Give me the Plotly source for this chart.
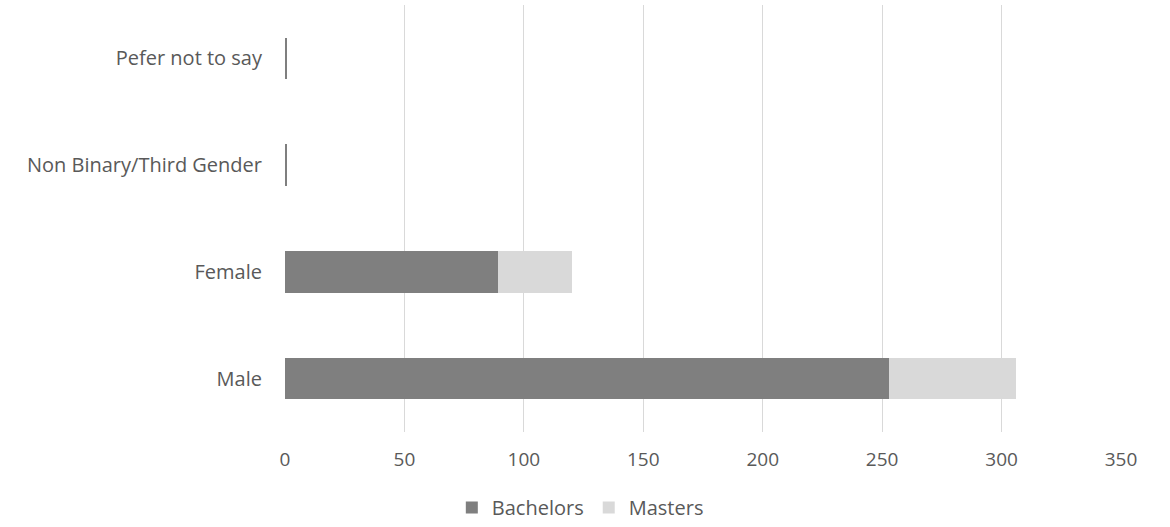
import plotly.graph_objects as go

# Respondents by gender, split by degree level
genders = ["Male", "Female", "Non Binary/Third Gender", "Pefer not to say"]
bachelors = [253, 89, 1, 1]
masters = [53, 31, 0, 0]
x_ticks = [0, 50, 100, 150, 200, 250, 300, 350]

font_family = "'Open Sans', Lato, sans-serif"
text_color = "#595959"

fig = go.Figure()
fig.add_trace(go.Bar(
    y=genders, x=bachelors, name="Bachelors", orientation="h",
    marker=dict(color="#7f7f7f", line=dict(width=0)),
))
fig.add_trace(go.Bar(
    y=genders, x=masters, name="Masters", orientation="h",
    marker=dict(color="#d9d9d9", line=dict(width=0)),
))

fig.update_layout(
    barmode="stack",
    bargap=0.61,
    width=1170,
    height=527,
    margin=dict(l=285, r=49, t=5, b=95, autoexpand=False),
    paper_bgcolor="white",
    plot_bgcolor="white",
    font=dict(family=font_family, size=19, color=text_color),
    showlegend=True,
    legend=dict(
        orientation="h",
        x=0.496, xref="container", xanchor="center",
        y=0.0, yref="container", yanchor="bottom",
        font=dict(size=20, color=text_color),
        traceorder="normal",
        itemwidth=30,
    ),
    xaxis=dict(
        range=[0, 350],
        tickvals=x_ticks,
        showgrid=True,
        gridcolor="#d9d9d9",
        gridwidth=1,
        zeroline=False,
        showline=False,
        ticks="",
        ticklabelstandoff=14,
        tickfont=dict(size=19, color=text_color),
        automargin=False,
        fixedrange=True,
    ),
    yaxis=dict(
        categoryorder="array",
        categoryarray=genders,
        showgrid=False,
        zeroline=False,
        showline=False,
        ticks="",
        ticklabelstandoff=22,
        tickfont=dict(size=20, color=text_color),
        automargin=False,
        fixedrange=True,
    ),
)

fig.write_html("out.html")
